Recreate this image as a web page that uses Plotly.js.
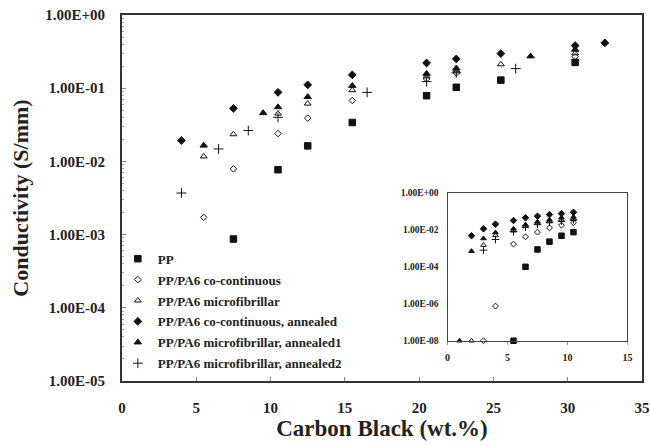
<!DOCTYPE html>
<html>
<head>
<meta charset="utf-8">
<script src="https://cdn.plot.ly/plotly-3.0.1.min.js"></script>
<style>body{margin:0;background:#fff}#chart{width:650px;height:446px}</style>
</head>
<body>
<div id="chart"></div>
<script>
// ---- main chart data (Carbon Black wt.% vs conductivity S/mm) ----
const seriesNames = ["PP", "PP/PA6 co-continuous", "PP/PA6 microfibrillar",
  "PP/PA6 co-continuous, annealed", "PP/PA6 microfibrillar, annealed1", "PP/PA6 microfibrillar, annealed2"];

const ppX = [7.5, 10.5, 12.5, 15.5, 20.5, 22.5, 25.5, 30.5];
const ppY = [0.00087, 0.0077, 0.0163, 0.034, 0.079, 0.103, 0.129, 0.225];

const coX = [5.5, 7.5, 10.5, 12.5, 15.5, 20.5, 22.5, 30.5];
const coY = [0.00172, 0.0079, 0.024, 0.039, 0.068, 0.134, 0.162, 0.27];

const mfX = [5.5, 7.5, 10.5, 12.5, 15.5, 20.5, 22.5, 25.5, 30.5];
const mfY = [0.0117, 0.0235, 0.045, 0.0616, 0.094, 0.145, 0.175, 0.212, 0.30];

const coAnX = [4, 7.5, 10.5, 12.5, 15.5, 20.5, 22.5, 25.5, 30.5, 32.5];
const coAnY = [0.0193, 0.053, 0.0877, 0.111, 0.152, 0.221, 0.251, 0.297, 0.382, 0.416];

const mfAn1X = [5.5, 9.5, 10.5, 12.5, 15.5, 20.5, 22.5, 27.5, 30.5];
const mfAn1Y = [0.0165, 0.0458, 0.0552, 0.076, 0.108, 0.158, 0.187, 0.273, 0.337];

const mfAn2X = [4, 6.5, 8.5, 10.5, 16.5, 20.5, 22.5, 26.5];
const mfAn2Y = [0.0037, 0.0148, 0.0264, 0.040, 0.0877, 0.123, 0.162, 0.185];

// ---- inset data ----
const inPpX = [5.5, 6.5, 7.5, 8.5, 9.5, 10.5];
const inPpY = [1e-8, 1e-4, 8.7e-4, 2.3e-3, 4.8e-3, 7.5e-3];
const inCoX = [3, 4, 5.5, 6.5, 7.5, 8.5, 9.5, 10.5];
const inCoY = [1e-8, 7.5e-7, 1.7e-3, 4.2e-3, 7.5e-3, 0.0128, 0.018, 0.024];
const inMfX = [2, 3, 4, 5.5, 6.5, 7.5, 8.5, 9.5, 10.5];
const inMfY = [1e-8, 1.5e-3, 5e-3, 0.009, 0.016, 0.022, 0.028, 0.033, 0.038];
const inCoAnX = [2, 3, 4, 5.5, 6.5, 7.5, 8.5, 9.5, 10.5];
const inCoAnY = [4.8e-3, 0.0113, 0.0203, 0.032, 0.045, 0.055, 0.067, 0.076, 0.09];
const inMfAn1X = [1, 2, 3, 4, 5.5, 6.5, 7.5, 8.5, 9.5, 10.5];
const inMfAn1Y = [1e-8, 7e-4, 3.4e-3, 7.2e-3, 0.0113, 0.019, 0.027, 0.035, 0.046, 0.05];
const inMfAn2X = [3, 4, 5.5, 6.5, 7.5, 8.5, 9.5, 10.5];
const inMfAn2Y = [8e-4, 3e-3, 0.008, 0.014, 0.02, 0.026, 0.03, 0.035];

// ---- tick labels ----
const mainYTickVals = [1e-5, 1e-4, 1e-3, 1e-2, 1e-1, 1];
const mainYTickText = ["1.00E-05", "1.00E-04", "1.00E-03", "1.00E-02", "1.00E-01", "1.00E+00"];
const mainXTickVals = [0, 5, 10, 15, 20, 25, 30, 35];
const inYTickVals = [1e-8, 1e-6, 1e-4, 1e-2, 1];
const inYTickText = ["1.00E-08", "1.00E-06", "1.00E-04", "1.00E-02", "1.00E+00"];
const inXTickVals = [0, 5, 10, 15];

const symbols = ["square", "diamond-open", "triangle-up-open", "diamond", "triangle-up", "cross-thin-open"];
const sizes = [6.5, 5, 6, 6, 6.5, 7];
const inSizes = [5.5, 4.5, 5, 5, 5, 5.5];

const mainX = [ppX, coX, mfX, coAnX, mfAn1X, mfAn2X];
const mainY = [ppY, coY, mfY, coAnY, mfAn1Y, mfAn2Y];
const insX = [inPpX, inCoX, inMfX, inCoAnX, inMfAn1X, inMfAn2X];
const insY = [inPpY, inCoY, inMfY, inCoAnY, inMfAn1Y, inMfAn2Y];

const traces = [];
for (let i = 0; i < 6; i++) {
  traces.push({
    x: mainX[i], y: mainY[i], type: "scatter", mode: "markers", name: seriesNames[i],
    legendgroup: "g" + i,
    marker: {symbol: symbols[i], size: sizes[i], color: "#111",
      line: {color: "#111", width: 1}},
    cliponaxis: false
  });
}
for (let i = 0; i < 6; i++) {
  traces.push({
    x: insX[i], y: insY[i], type: "scatter", mode: "markers", showlegend: false,
    xaxis: "x2", yaxis: "y2",
    marker: {symbol: symbols[i], size: inSizes[i], color: "#111",
      line: {color: "#111", width: 1}},
    cliponaxis: false
  });
}

const serif = "Liberation Serif, Times New Roman, serif";
const layout = {
  width: 650, height: 446,
  margin: {l: 122, r: 8, t: 15, b: 65},
  paper_bgcolor: "#fff", plot_bgcolor: "#fff",
  showlegend: true,
  legend: {x: -0.008, y: 0.375, xanchor: "left", yanchor: "top", bgcolor: "rgba(0,0,0,0)",
    font: {family: serif, size: 13, color: "#222", weight: "bold"},
    tracegroupgap: 1, traceorder: "grouped", itemwidth: 30},
  xaxis: {
    range: [0, 35], tickvals: mainXTickVals, ticks: "inside", ticklen: 4, tickcolor: "#888",
    showline: true, linecolor: "#333", linewidth: 2, mirror: true, showgrid: false, zeroline: false,
    ticklabelstandoff: 12,
    tickfont: {family: serif, size: 15, color: "#222", weight: "bold"},
    title: {text: "Carbon Black (wt.%)", font: {family: serif, size: 23, color: "#222", weight: "bold"}, standoff: 1}
  },
  yaxis: {
    type: "log", range: [-5, 0], tickvals: mainYTickVals, ticktext: mainYTickText,
    ticks: "inside", ticklen: 4, tickcolor: "#888",
    minor: {ticks: "inside", ticklen: 2, tickcolor: "#aaa", dtick: "D1"},
    showline: true, linecolor: "#333", linewidth: 2, mirror: true, showgrid: false, zeroline: false,
    ticklabelstandoff: 12,
    tickfont: {family: serif, size: 15, color: "#222", weight: "bold"},
    title: {text: "Conductivity (S/mm)", font: {family: serif, size: 22, color: "#222", weight: "bold"}, standoff: 10}
  },
  xaxis2: {
    domain: [0.626, 0.972], anchor: "y2", range: [0, 15], tickvals: inXTickVals,
    ticks: "outside", ticklen: 3, tickcolor: "#999",
    showline: true, linecolor: "#444", linewidth: 1, mirror: true, showgrid: false, zeroline: false,
    ticklabelstandoff: 4,
    tickfont: {family: serif, size: 10, color: "#222", weight: "bold"}
  },
  yaxis2: {
    domain: [0.11, 0.514], anchor: "x2", type: "log", range: [-8, 0],
    tickvals: inYTickVals, ticktext: inYTickText, ticks: "",
    showline: true, linecolor: "#444", linewidth: 1, mirror: true, showgrid: false, zeroline: false,
    ticklabelstandoff: 6,
    tickfont: {family: serif, size: 9.5, color: "#222", weight: "bold"}
  }
};

Plotly.newPlot("chart", traces, layout, {displayModeBar: false, staticPlot: true});
</script>
</body>
</html>
